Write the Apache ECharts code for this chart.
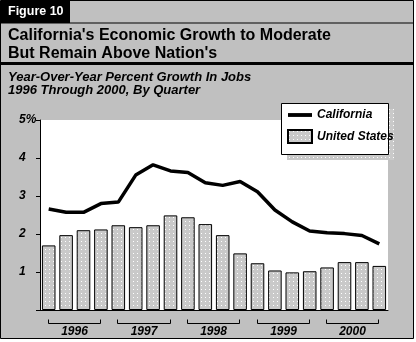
<!DOCTYPE html>
<html>
<head>
<meta charset="utf-8">
<script src="https://cdn.jsdelivr.net/npm/echarts@6/dist/echarts.min.js"></script>
<style>
html,body{margin:0;padding:0;background:#fff;}
#c{width:416px;height:342px;}
</style>
</head>
<body>
<div id="c"></div>
<script>
const quarters = ['1996 Q1','1996 Q2','1996 Q3','1996 Q4','1997 Q1','1997 Q2','1997 Q3','1997 Q4',
  '1998 Q1','1998 Q2','1998 Q3','1998 Q4','1999 Q1','1999 Q2','1999 Q3','1999 Q4',
  '2000 Q1','2000 Q2','2000 Q3','2000 Q4'];
const california = [2.66, 2.57, 2.57, 2.80, 2.84, 3.55, 3.82, 3.66, 3.62, 3.35, 3.28, 3.38, 3.11, 2.63, 2.32, 2.08, 2.03, 2.01, 1.96, 1.74];
const unitedStates = [1.70, 1.97, 2.10, 2.12, 2.23, 2.18, 2.23, 2.49, 2.44, 2.26, 1.97, 1.49, 1.23, 1.04, 0.99, 1.02, 1.12, 1.26, 1.26, 1.16];
const years = ['1996','1997','1998','1999','2000'];
const yTicks = [0, 1, 2, 3, 4, 5];
const seriesNames = ['California', 'United States'];
const titleLines = ["California's Economic Growth to Moderate", "But Remain Above Nation's"];
const subtitleLines = ['Year-Over-Year Percent Growth In Jobs', '1996 Through 2000, By Quarter'];
const figureLabel = 'Figure 10';

const FONT = '"Liberation Sans", Arial, Helvetica, sans-serif';

// dotted pattern (bars and legend shadow)
const pat = document.createElement('canvas');
pat.width = 4; pat.height = 4;
const pctx = pat.getContext('2d');
pctx.fillStyle = '#c9c9c9';
pctx.fillRect(0, 0, 4, 4);
pctx.fillStyle = '#ffffff';
pctx.fillRect(1, 1, 1, 1);
const patFill = {image: pat, repeat: 'repeat'};

// bracket ranges per year (first and last quarter index)
const brackets = years.map((y, i) => [quarters.indexOf(y + ' Q1'), quarters.indexOf(y + ' Q4')]);

const chart = echarts.init(document.getElementById('c'), null, {renderer: 'canvas'});
chart.setOption({
  animation: false,
  backgroundColor: '#ffffff',
  graphic: [
    {type: 'rect', z: -10, shape: {x: 0.5, y: 0.5, width: 413, height: 338}, style: {fill: '#c0c0c0', stroke: '#000', lineWidth: 1}},
    {type: 'rect', z: 1, shape: {x: 1, y: 1, width: 69, height: 22}, style: {fill: '#000'}},
    {type: 'rect', z: 1, shape: {x: 1, y: 22.5, width: 412, height: 1}, style: {fill: '#000'}},
    {type: 'text', z: 2, x: 8, y: 5, style: {text: figureLabel, fill: '#fff', font: 'bold 12.5px ' + FONT}},
    {type: 'text', z: 2, x: 8, y: 28, style: {text: titleLines[0], fill: '#000', font: 'bold 16px ' + FONT}},
    {type: 'text', z: 2, x: 8, y: 46, style: {text: titleLines[1], fill: '#000', font: 'bold 16px ' + FONT}},
    {type: 'rect', z: 1, shape: {x: 1, y: 62, width: 412, height: 3}, style: {fill: '#000'}},
    {type: 'text', z: 2, x: 8, y: 71, style: {text: subtitleLines[0], fill: '#000', font: 'italic bold 13px ' + FONT}},
    {type: 'text', z: 2, x: 8, y: 84, style: {text: subtitleLines[1], fill: '#000', font: 'italic bold 13px ' + FONT}},
    // legend frame and its dotted shadow
    {type: 'rect', z: 15, shape: {x: 287, y: 109, width: 107, height: 51}, style: {fill: patFill}},
    {type: 'rect', z: 16, shape: {x: 281.5, y: 103.5, width: 107, height: 51}, style: {fill: '#fff', stroke: '#000', lineWidth: 1}}
  ],
  grid: {left: 40, right: 28, top: 120, bottom: 32, show: true, backgroundColor: '#ffffff', borderWidth: 0},
  legend: {
    data: [
      {name: seriesNames[0], icon: 'path://M0,0H25V4H0Z'},
      {name: seriesNames[1], icon: 'rect'}
    ],
    orient: 'vertical',
    left: 281, top: 103,
    padding: [6, 6, 10, 6],
    itemGap: 8,
    itemWidth: 24, itemHeight: 13,
    symbolKeepAspect: true,
    textStyle: {fontFamily: FONT, fontStyle: 'italic', fontWeight: 'bold', fontSize: 12, color: '#000'},
    selectedMode: false,
    z: 20
  },
  xAxis: {
    type: 'category',
    data: quarters,
    axisLine: {show: true, lineStyle: {color: '#000', width: 1}},
    axisTick: {show: false},
    axisLabel: {show: false},
    splitLine: {show: false}
  },
  yAxis: {
    type: 'value',
    min: yTicks[0], max: yTicks[yTicks.length - 1], interval: 1,
    axisLine: {show: true, lineStyle: {color: '#000', width: 1}},
    axisTick: {show: true, length: 4, lineStyle: {color: '#000'}},
    splitLine: {show: false},
    axisLabel: {
      align: 'left', margin: 21,
      color: '#000', fontFamily: FONT, fontStyle: 'italic', fontWeight: 'bold', fontSize: 12,
      formatter: v => v === yTicks[0] ? '' : (v === yTicks[yTicks.length - 1] ? v + '%' : String(v))
    }
  },
  series: [
    {
      name: seriesNames[1],
      type: 'bar',
      data: unitedStates,
      barCategoryGap: '22%',
      itemStyle: {color: patFill, borderColor: '#000', borderWidth: 1},
      z: 2
    },
    {
      name: seriesNames[0],
      type: 'line',
      data: california,
      symbol: 'none',
      lineStyle: {color: '#000', width: 3.5},
      itemStyle: {color: '#000'},
      z: 3
    },
    {
      type: 'custom',
      data: brackets,
      clip: false,
      silent: true,
      z: 5,
      renderItem: function (params, api) {
        const s = api.coord([api.value(0), 0]);
        const e = api.coord([api.value(1), 0]);
        const x0 = Math.round(s[0]) - 0.5, x1 = Math.round(e[0]) - 0.5;
        const y = Math.round(s[1] + 13) + 0.5;
        return {
          type: 'group',
          children: [
            {type: 'polyline', shape: {points: [[x0, y - 4], [x0, y], [x1, y], [x1, y - 4]]}, style: {stroke: '#000', lineWidth: 1, fill: null}},
            {type: 'text', style: {text: years[params.dataIndex], x: (x0 + x1) / 2, y: y + 2, align: 'center', verticalAlign: 'top', fill: '#000', font: 'italic bold 12px ' + FONT}}
          ]
        };
      }
    }
  ]
});
</script>
</body>
</html>
